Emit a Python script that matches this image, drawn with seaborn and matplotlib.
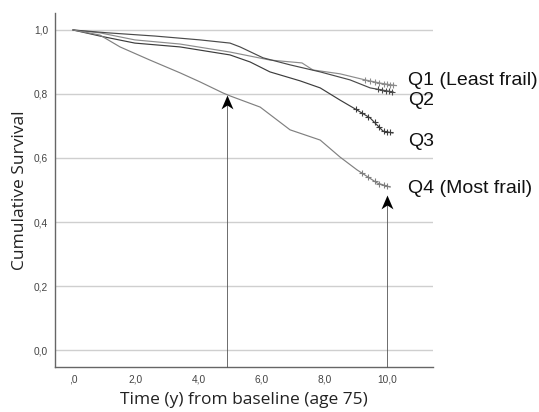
import numpy as np
import pandas as pd
import matplotlib
matplotlib.use("Agg")
import matplotlib.pyplot as plt
import seaborn as sns
from matplotlib.path import Path

# ---- data ----
groups = ["Q1 (Least frail)", "Q2", "Q3", "Q4 (Most frail)"]

q1_time = [0, 0.86, 1.97, 3.41, 5.0, 6.27, 7.29, 7.64, 8.50, 9.30, 9.78, 10.3]
q1_surv = [1.0, 0.991, 0.969, 0.956, 0.931, 0.906, 0.897, 0.875, 0.863, 0.844, 0.834, 0.826]

q2_time = [0, 1.11, 2.61, 4.04, 5.0, 5.32, 6.05, 6.91, 7.87, 8.82, 9.46, 10.2]
q2_surv = [1.0, 0.991, 0.981, 0.969, 0.959, 0.947, 0.913, 0.891, 0.869, 0.844, 0.819, 0.806]

q3_time = [0, 0.86, 1.97, 3.41, 5.0, 5.64, 6.27, 7.23, 7.87, 8.50, 9.04, 9.46, 9.87, 10.19]
q3_surv = [1.0, 0.981, 0.959, 0.947, 0.922, 0.900, 0.869, 0.841, 0.819, 0.781, 0.75, 0.725, 0.684, 0.678]

q4_time = [0, 0.86, 1.50, 2.45, 3.41, 4.04, 4.78, 5.0, 5.96, 6.91, 7.87, 8.50, 9.04, 9.68, 10.1]
q4_surv = [1.0, 0.984, 0.947, 0.906, 0.866, 0.838, 0.803, 0.794, 0.759, 0.688, 0.656, 0.603, 0.563, 0.522, 0.509]

# censored observations (times)
q1_cens = [9.3, 9.45, 9.6, 9.75, 9.9, 10.0, 10.1, 10.2]
q2_cens = [9.7, 9.85, 9.95, 10.05, 10.15]
q3_cens = [9.0, 9.2, 9.4, 9.6, 9.75, 9.9, 10.0, 10.1]
q4_cens = [9.2, 9.4, 9.6, 9.75, 9.9, 10.0]

label_y = [0.841, 0.781, 0.65, 0.506]
arrow_x = [4.9, 10.0]
arrow_tip = [0.797, 0.484]

xticks = [0, 2, 4, 6, 8, 10]
xticklabels = [",0", "2,0", "4,0", "6,0", "8,0", "10,0"]
yticks = [0.0, 0.2, 0.4, 0.6, 0.8, 1.0]
yticklabels = ["0,0", "0,2", "0,4", "0,6", "0,8", "1,0"]

colors = ["#8c8c8c", "#4a4a4a", "#3c3c3c", "#808080"]

# ---- build table ----
times = [q1_time, q2_time, q3_time, q4_time]
survs = [q1_surv, q2_surv, q3_surv, q4_surv]
cens = [q1_cens, q2_cens, q3_cens, q4_cens]
df = pd.concat([pd.DataFrame({"time": t, "surv": s, "group": g})
                for t, s, g in zip(times, survs, groups)], ignore_index=True)

sns.set_theme(style="white")
plt.rcParams["font.family"] = ["Liberation Sans", "DejaVu Sans"]

fig = plt.figure(figsize=(5.39, 4.12), dpi=100)
ax = fig.add_axes([55/539, 45/412, (433-55)/539, (367-13)/412])

sns.lineplot(data=df, x="time", y="surv", hue="group", palette=colors,
             estimator=None, sort=True, legend=False, linewidth=0.85, ax=ax, zorder=3)

for t, s, c, col in zip(times, survs, cens, colors):
    cy = np.interp(c, t, s)
    ax.plot(c, cy, linestyle="none", marker="+", markersize=4, markeredgewidth=0.8,
            color=col, zorder=4)

ax.set_xlim(-0.57, 11.46)
ax.set_ylim(-0.053, 1.053)
ax.set_xticks(xticks)
ax.set_xticklabels(xticklabels)
ax.set_yticks(yticks)
ax.set_yticklabels(yticklabels)
ax.tick_params(axis="both", length=0, labelsize=7.3, labelcolor="#444444")
ax.tick_params(axis="x", pad=5.5)
ax.tick_params(axis="y", pad=5)

ax.grid(axis="y", color="#cfcfcf", linewidth=1.0)
ax.grid(axis="x", visible=False)
for sp in ["top", "right"]:
    ax.spines[sp].set_visible(False)
for sp in ["left", "bottom"]:
    ax.spines[sp].set_color("#666666")
    ax.spines[sp].set_linewidth(1.0)

ax.set_xlabel("Time (y) from baseline (age 75)", family=["Open Sans", "DejaVu Sans"],
              fontsize=12.5, color="#222222", labelpad=5)
ax.set_ylabel("Cumulative Survival", family=["Open Sans", "DejaVu Sans"],
              fontsize=12.5, color="#222222", labelpad=4)

for g, y in zip(groups, label_y):
    ax.text(10.67, y, g, fontsize=14, va="center", ha="left", color="#111111",
            family=["Liberation Sans", "DejaVu Sans"], clip_on=False)

# arrows
head = Path([(0, 0), (-0.43, -1.0), (0, -0.72), (0.43, -1.0), (0, 0)],
            [Path.MOVETO, Path.LINETO, Path.LINETO, Path.LINETO, Path.CLOSEPOLY])
for ax_x, tip in zip(arrow_x, arrow_tip):
    ax.plot([ax_x, ax_x], [-0.053, tip - 0.01], color="#555555", linewidth=0.6,
            zorder=5, clip_on=False)
    ax.plot([ax_x], [tip], marker=head, markersize=20, color="black",
            markeredgewidth=0, linestyle="none", zorder=6, clip_on=False)

fig.savefig("out.png", dpi=100)
